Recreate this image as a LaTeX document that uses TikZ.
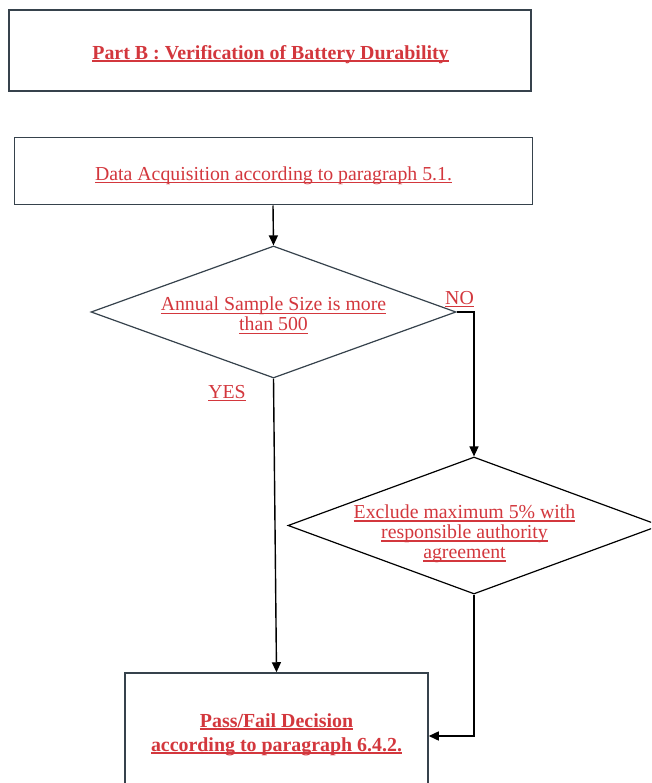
\documentclass[tikz,border=0pt]{standalone}
\usepackage{fontspec}
\setmainfont{Liberation Serif}
\usetikzlibrary{arrows.meta,shapes.geometric}
\definecolor{txtred}{HTML}{D3373D}
\definecolor{edgegray}{HTML}{36424C}
\newlength{\myulth}\setlength{\myulth}{1.1pt}
\newcommand{\myul}[1]{\setbox0\hbox{#1}\rlap{\rule[-2.8pt]{\wd0}{\myulth}}\box0}
\begin{document}
\begin{tikzpicture}[x=1pt,y=-1pt,
  boxa/.style={draw=edgegray, line width=2pt, rectangle, inner sep=0pt},
  boxb/.style={draw=edgegray, line width=1pt, rectangle, inner sep=0pt},
  dia/.style={diamond, draw, line width=1.2pt, inner sep=0pt},
  txt/.style={text=txtred, align=center, inner sep=0pt, font=\fontsize{19.8}{20}\selectfont},
  conn/.style={draw=black, line width=1.4pt, -{Triangle[length=10pt,width=9pt]}}]
\useasboundingbox (0,0) rectangle (651,783);
\clip (0,0) rectangle (651,783);
\fill[white] (0,0) rectangle (651,783);

\node[boxa, minimum width=522, minimum height=81] (title) at (270,50.5) {};
\node[txt, font=\bfseries\fontsize{19.9}{20}\selectfont\setlength{\myulth}{1.8pt}] (titletxt) at (270.5,54.5) {\myul{Part B : Verification of Battery Durability}};

\node[boxb, minimum width=518, minimum height=67] (acq) at (273,171.5) {};
\node[txt] (acqtxt) at (273.5,175.5) {\myul{Data Acquisition according to paragraph 5.1.}};

\node[dia, draw=edgegray, minimum width=365, minimum height=132] (d1) at (273.5,312) {};
\node[txt] (d1txt) at (273.5,315.5) {\myul{Annual Sample Size is more}\\\myul{than 500}};

\node[dia, draw=black, minimum width=372, minimum height=137] (d2) at (474,525.5) {};
\node[txt] (d2txt) at (464.5,534) {\myul{Exclude maximum 5\% with}\\\myul{responsible authority}\\\myul{agreement}};

\node[boxb, draw=edgegray, line width=1.5pt, minimum width=303, minimum height=126] (pf) at (276.5,736) {};
\node[txt, font=\bfseries\fontsize{19.9}{24}\selectfont\setlength{\myulth}{1.8pt}] (pftxt) at (276.5,734.5) {\myul{Pass/Fail Decision}\\\myul{according to paragraph 6.4.2.}};

\node[txt] (no) at (459.5,299) {\myul{NO}};
\node[txt] (yes) at (227,393) {\myul{YES}};

\draw[conn] (acq.south) -- (d1.north);
\draw[conn] (d1.east) -- (d1.east -| d2.north) -- (d2.north);
\draw[conn] (d1.south) -- (pf.north);
\draw[conn] (d2.south) |- (pf.east);
\end{tikzpicture}
\end{document}
